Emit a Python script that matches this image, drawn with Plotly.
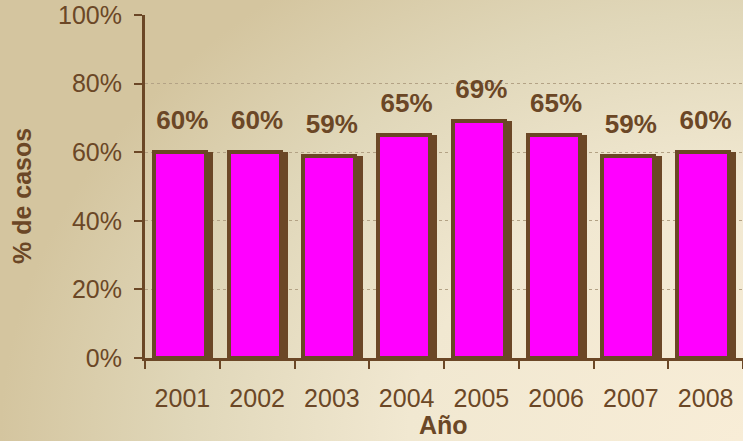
import base64

import plotly.graph_objects as go

# data
years = ["2001", "2002", "2003", "2004", "2005", "2006", "2007", "2008"]
pct_casos = [60, 60, 59, 65, 69, 65, 59, 60]
y_ticks = [0, 20, 40, 60, 80, 100]
y_ticktext = ["0%", "20%", "40%", "60%", "80%", "100%"]
bar_labels = ["60%", "60%", "59%", "65%", "69%", "65%", "59%", "60%"]

BROWN = "#6B4726"
MAGENTA = "#FF00FF"
FONT = "Liberation Sans, Arial, sans-serif"

W, H = 743, 441
L, R, T, B = 145, 0, 15, 83
PW, PH = W - L - R, H - T - B

# background gradient as an inline svg
svg = f"""<svg xmlns='http://www.w3.org/2000/svg' width='{W}' height='{H}' viewBox='0 0 {W} {H}' preserveAspectRatio='none'>
<defs><radialGradient id='g' gradientUnits='userSpaceOnUse' cx='{W}' cy='{H}' r='{W}'
 gradientTransform='translate({W} {H}) scale(1 0.77) translate(-{W} -{H})'>
<stop offset='0' stop-color='#F8EDD7'/>
<stop offset='0.45' stop-color='#F1E8D1'/>
<stop offset='0.75' stop-color='#E0D7B9'/>
<stop offset='1' stop-color='#D4C59F'/>
</radialGradient></defs>
<rect width='{W}' height='{H}' fill='url(#g)'/></svg>"""
bg_src = "data:image/svg+xml;base64," + base64.b64encode(svg.encode()).decode()

fig = go.Figure()

# shadow behind each bar
fig.add_trace(go.Bar(
    x=years, y=pct_casos, width=0.75, offset=-0.34,
    marker=dict(color=BROWN, line=dict(width=0)),
    hoverinfo="skip", showlegend=False,
))
# main bars
fig.add_trace(go.Bar(
    x=years, y=pct_casos, width=0.695, offset=-0.38,
    marker=dict(color=MAGENTA, line=dict(color=BROWN, width=4)),
    showlegend=False,
))
# value labels (invisible markers keep the text lifted off the bar top)
fig.add_trace(go.Scatter(
    x=years, y=pct_casos, mode="markers+text",
    text=bar_labels, textposition="top center",
    marker=dict(size=25, color="rgba(0,0,0,0)"),
    textfont=dict(family=FONT, size=26, color=BROWN, weight="bold"),
    hoverinfo="skip", showlegend=False, cliponaxis=False,
))

annotations = [
    dict(
        x=(22 - L) / PW, y=(H - B - 196) / PH, xref="paper", yref="paper",
        xanchor="center", yanchor="middle",
        text="% de casos", textangle=-90, showarrow=False,
        font=dict(family=FONT, size=25, color=BROWN, weight="bold"),
    ),
    dict(
        x=(443 - L) / PW, y=(H - B - 425) / PH, xref="paper", yref="paper",
        xanchor="center", yanchor="middle",
        text="Año", showarrow=False,
        font=dict(family=FONT, size=25, color=BROWN, weight="bold"),
    ),
]

fig.update_layout(
    width=W, height=H,
    margin=dict(l=L, r=R, t=T, b=B, autoexpand=False),
    paper_bgcolor="rgba(0,0,0,0)", plot_bgcolor="rgba(0,0,0,0)",
    barmode="overlay", bargap=0,
    annotations=annotations,
    images=[dict(
        source=bg_src, xref="paper", yref="paper",
        x=-L / PW, y=1 + T / PH, sizex=W / PW, sizey=H / PH,
        xanchor="left", yanchor="top", sizing="stretch", layer="below",
    )],
    xaxis=dict(
        type="category", range=[-0.5, 7.5], automargin=False,
        showline=True, linecolor=BROWN, linewidth=3,
        ticks="outside", tickson="boundaries", ticklen=8, tickwidth=2, tickcolor=BROWN,
        tickfont=dict(family=FONT, size=25, color=BROWN),
        ticklabelstandoff=16, showgrid=False,
    ),
    yaxis=dict(
        range=[0, 100], tickmode="array", tickvals=y_ticks, ticktext=y_ticktext,
        automargin=False,
        showline=True, linecolor=BROWN, linewidth=3,
        ticks="outside", ticklen=8, tickwidth=2, tickcolor=BROWN,
        tickfont=dict(family=FONT, size=25, color=BROWN),
        ticklabelstandoff=7,
        showgrid=True, gridcolor="#B3A285", griddash="dot", gridwidth=1,
        zeroline=False,
    ),
)

fig.write_html("out.html", config={"displayModeBar": False},
               post_script="document.body.style.margin='0';")
